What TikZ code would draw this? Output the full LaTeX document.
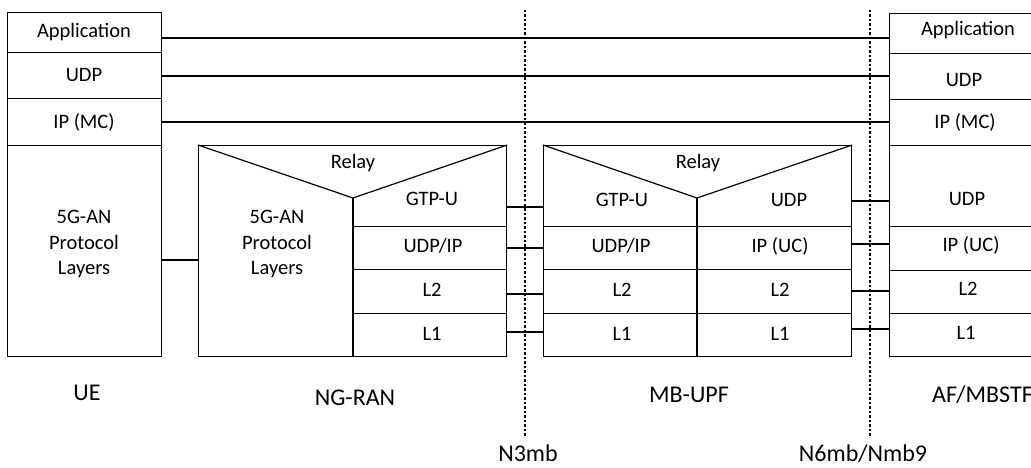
\documentclass[tikz,border=0pt]{standalone}
\usepackage{fontspec}
\setmainfont{Carlito}
\begin{document}
\begin{tikzpicture}[x=1pt,y=-1pt,
  cell/.style={draw, line width=1.2pt, rectangle, inner sep=0pt, anchor=north west},
  wire/.style={line width=1.2pt},
  txt/.style={inner sep=0pt, text height=13pt, text depth=0pt, font=\fontsize{20.5}{24}\selectfont},
  txtm/.style={inner sep=0pt, align=center, font=\fontsize{20.5}{25.5}\selectfont},
  lbl/.style={inner sep=0pt, text height=15pt, text depth=0pt, font=\fontsize{24}{28}\selectfont},
  sepline/.style={line width=1.5pt, dash pattern=on 2.5pt off 2pt}]
\useasboundingbox (0,0) rectangle (1031,468);

% ---------- UE ----------
\node[cell, minimum width=154pt, minimum height=40pt] (ueApp) at (7,12) {};
\node[cell, minimum width=154pt, minimum height=46pt] (ueUDP) at (7,52) {};
\node[cell, minimum width=154pt, minimum height=47pt] (ueIP) at (7,98) {};
\node[cell, minimum width=154pt, minimum height=211pt] (ueAN) at (7,145) {};
\node[txt] (ueAppT) at (84,31) {Application};
\node[txt] (ueUDPT) at (84,75) {UDP};
\node[txt] (ueIPT) at (84,122) {IP (MC)};
\node[txtm] (ueANT) at (84,244) {5G-AN\\Protocol\\Layers};

% ---------- NG-RAN ----------
\node[cell, minimum width=308pt, minimum height=211pt] (ran) at (198,145) {};
\coordinate (ranApex) at (353,198);
\draw[wire] (ran.north west) -- (ranApex) -- (ran.north east);
\draw[wire] (ranApex) -- (ranApex |- ran.south);
\node[cell, minimum width=153pt, minimum height=43.3pt] (ranUDPIP) at (353,225.7) {};
\node[cell, minimum width=153pt, minimum height=44pt] (ranL2) at (353,269) {};
\node[cell, minimum width=153pt, minimum height=43pt] (ranL1) at (353,313) {};
\node[txt] (ranRelay) at (353,162) {Relay};
\node[txt] (ranGTP) at (432,199) {GTP-U};
\node[txt] (ranUDPIPT) at (433,246) {UDP/IP};
\node[txt] (ranL2T) at (432,290) {L2};
\node[txt] (ranL1T) at (432,334) {L1};
\node[txtm] (ranANT) at (277,244) {5G-AN\\Protocol\\Layers};

% ---------- MB-UPF ----------
\node[cell, minimum width=308pt, minimum height=211pt] (upf) at (543,145) {};
\coordinate (upfApex) at (697,198);
\draw[wire] (upf.north west) -- (upfApex) -- (upf.north east);
\draw[wire] (upfApex) -- (upfApex |- upf.south);
\node[cell, minimum width=154pt, minimum height=43.3pt] (upfUDPIP) at (543,225.7) {};
\node[cell, minimum width=154pt, minimum height=44pt] (upfL2) at (543,269) {};
\node[cell, minimum width=154pt, minimum height=43pt] (upfL1) at (543,313) {};
\node[cell, minimum width=154pt, minimum height=43.3pt] (upfIP) at (697,225.7) {};
\node[cell, minimum width=154pt, minimum height=44pt] (upfL2r) at (697,269) {};
\node[cell, minimum width=154pt, minimum height=43pt] (upfL1r) at (697,313) {};
\node[txt] (upfRelay) at (698,162) {Relay};
\node[txt] (upfGTP) at (622,200) {GTP-U};
\node[txt] (upfUDP) at (789,200) {UDP};
\node[txt] (upfUDPIPT) at (621,246) {UDP/IP};
\node[txt] (upfIPT) at (780,246) {IP (UC)};
\node[txt] (upfL2T) at (622,290) {L2};
\node[txt] (upfL2rT) at (780,290) {L2};
\node[txt] (upfL1T) at (622,334) {L1};
\node[txt] (upfL1rT) at (780,334) {L1};

% ---------- AF/MBSTF ----------
\node[cell, minimum width=220pt, minimum height=40pt] (afApp) at (889,12.7) {};
\node[cell, minimum width=220pt, minimum height=46.3pt] (afUDP) at (889,52.7) {};
\node[cell, minimum width=220pt, minimum height=46pt] (afIP) at (889,99) {};
\node[cell, minimum width=220pt, minimum height=81pt] (afUDP2) at (889,145) {};
\node[cell, minimum width=220pt, minimum height=44pt] (afIPUC) at (889,226) {};
\node[cell, minimum width=220pt, minimum height=43pt] (afL2) at (889,270) {};
\node[cell, minimum width=220pt, minimum height=43pt] (afL1) at (889,313) {};
\node[txt] (afAppT) at (968,29) {Application};
\node[txt] (afUDPT) at (964,80) {UDP};
\node[txt] (afIPT) at (965,122) {IP (MC)};
\node[txt] (afUDP2T) at (967,199) {UDP};
\node[txt] (afIPUCT) at (971,245) {IP (UC)};
\node[txt] (afL2T) at (968,289) {L2};
\node[txt] (afL1T) at (966,333) {L1};

% ---------- connectors ----------
\coordinate (yApp) at (0,38);
\coordinate (yUDP) at (0,76);
\coordinate (yIP) at (0,122);
\coordinate (yAN) at (0,260);
\coordinate (yRU1) at (0,207);
\coordinate (yRU2) at (0,248);
\coordinate (yRU3) at (0,294);
\coordinate (yRU4) at (0,332);
\coordinate (yUA1) at (0,201);
\coordinate (yUA2) at (0,244);
\coordinate (yUA3) at (0,291);
\coordinate (yUA4) at (0,329);
\draw[wire] (ueApp.east |- yApp) -- (afApp.west |- yApp);
\draw[wire] (ueUDP.east |- yUDP) -- (afUDP.west |- yUDP);
\draw[wire] (ueIP.east |- yIP) -- (afIP.west |- yIP);
\draw[wire] (ueAN.east |- yAN) -- (ran.west |- yAN);
\draw[wire] (ran.east |- yRU1) -- (upf.west |- yRU1);
\draw[wire] (ranUDPIP.east |- yRU2) -- (upfUDPIP.west |- yRU2);
\draw[wire] (ranL2.east |- yRU3) -- (upfL2.west |- yRU3);
\draw[wire] (ranL1.east |- yRU4) -- (upfL1.west |- yRU4);
\draw[wire] (upf.east |- yUA1) -- (afUDP2.west |- yUA1);
\draw[wire] (upfIP.east |- yUA2) -- (afIPUC.west |- yUA2);
\draw[wire] (upfL2r.east |- yUA3) -- (afL2.west |- yUA3);
\draw[wire] (upfL1r.east |- yUA4) -- (afL1.west |- yUA4);

% ---------- reference points ----------
\coordinate (sepAt) at (525,10);
\coordinate (sepAb) at (525,436);
\coordinate (sepBt) at (870,10);
\coordinate (sepBb) at (870,436);
\draw[sepline] (sepAt) -- (sepAb);
\draw[sepline] (sepBt) -- (sepBb);
\node[lbl] (n3mb) at (528,454) {N3mb};
\node[lbl] (n6mb) at (863,454) {N6mb/Nmb9};

% ---------- entity labels ----------
\node[lbl] (ueL) at (87,393) {UE};
\node[lbl] (ranL) at (355,398) {NG-RAN};
\node[lbl] (upfL) at (689,395) {MB-UPF};
\node[lbl, anchor=west] (afL) at (932,395) {AF/MBSTF};
\end{tikzpicture}
\end{document}
